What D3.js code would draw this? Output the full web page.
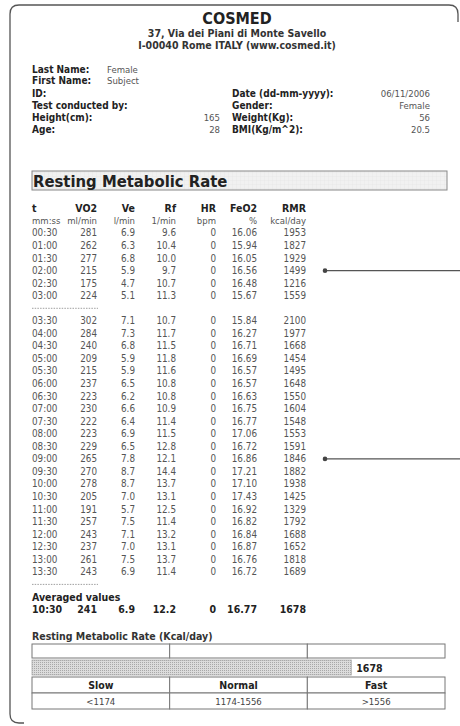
<!DOCTYPE html>
<html>
<head>
<meta charset="utf-8">
<script src="https://cdn.jsdelivr.net/npm/d3@7"></script>
<style>
  body { margin: 0; background: #fff; }
  svg { display: block; }
  text { font-family: "DejaVu Sans Condensed", "DejaVu Sans", sans-serif; }
</style>
</head>
<body>
<div id="report"></div>
<script>
// subject info
var leftLabels = ["Last Name:", "First Name:", "ID:", "Test conducted by:", "Height(cm):", "Age:"];
var leftValues = ["Female", "Subject", "", "", "165", "28"];
var rightLabels = ["", "", "Date (dd-mm-yyyy):", "Gender:", "Weight(Kg):", "BMI(Kg/m^2):"];
var rightValues = ["", "", "06/11/2006", "Female", "56", "20.5"];

// table
var headers = ["t", "VO2", "Ve", "Rf", "HR", "FeO2", "RMR"];
var units = ["mm:ss", "ml/min", "l/min", "1/min", "bpm", "%", "kcal/day"];
var times = ["00:30", "01:00", "01:30", "02:00", "02:30", "03:00",
  "03:30", "04:00", "04:30", "05:00", "05:30", "06:00", "06:30", "07:00",
  "07:30", "08:00", "08:30", "09:00", "09:30", "10:00", "10:30", "11:00",
  "11:30", "12:00", "12:30", "13:00", "13:30"];
var vo2 = [281, 262, 277, 215, 175, 224,
  302, 284, 240, 209, 215, 237, 223, 230, 222, 223, 229, 265, 270, 278, 205, 191, 257, 243, 237, 261, 243];
var ve = ["6.9", "6.3", "6.8", "5.9", "4.7", "5.1",
  "7.1", "7.3", "6.8", "5.9", "5.9", "6.5", "6.2", "6.6", "6.4", "6.9", "6.5", "7.8", "8.7", "8.7", "7.0", "5.7", "7.5", "7.1", "7.0", "7.5", "6.9"];
var rf = ["9.6", "10.4", "10.0", "9.7", "10.7", "11.3",
  "10.7", "11.7", "11.5", "11.8", "11.6", "10.8", "10.8", "10.9", "11.4", "11.5", "12.8", "12.1", "14.4", "13.7", "13.1", "12.5", "11.4", "13.2", "13.1", "13.7", "11.4"];
var hr = [0, 0, 0, 0, 0, 0, 0, 0, 0, 0, 0, 0, 0, 0, 0, 0, 0, 0, 0, 0, 0, 0, 0, 0, 0, 0, 0];
var feo2 = ["16.06", "15.94", "16.05", "16.56", "16.48", "15.67",
  "15.84", "16.27", "16.71", "16.69", "16.57", "16.57", "16.63", "16.75", "16.77", "17.06", "16.72", "16.86", "17.21", "17.10", "17.43", "16.92", "16.82", "16.84", "16.87", "16.76", "16.72"];
var rmr = [1953, 1827, 1929, 1499, 1216, 1559,
  2100, 1977, 1668, 1454, 1495, 1648, 1550, 1604, 1548, 1553, 1591, 1846, 1882, 1938, 1425, 1329, 1792, 1688, 1652, 1818, 1689];
var averaged = ["10:30", "241", "6.9", "12.2", "0", "16.77", "1678"];
var groupBreak = 6;

// RMR classification
var classes = ["Slow", "Normal", "Fast"];
var classRanges = ["<1174", "1174-1556", ">1556"];
var classLimits = [1174, 1556];
var rmrResult = 1678;

var W = 460, H = 726;
var svg = d3.select("#report").append("svg").attr("width", W).attr("height", H);

var defs = svg.append("defs");
var grid = defs.append("pattern").attr("id", "grid").attr("width", 4).attr("height", 4)
  .attr("patternUnits", "userSpaceOnUse");
grid.append("rect").attr("width", 4).attr("height", 4).attr("fill", "#f1f1f1");
grid.append("path").attr("d", "M0,0H4M0,0V4").attr("stroke", "#e2e2e2").attr("stroke-width", 0.6);
var dots = defs.append("pattern").attr("id", "dots").attr("width", 2).attr("height", 2)
  .attr("patternUnits", "userSpaceOnUse");
dots.append("rect").attr("width", 2).attr("height", 2).attr("fill", "#dcdcdc");
dots.append("rect").attr("width", 1).attr("height", 1).attr("fill", "#a8a8a8");

// page frame (right and bottom edges faded)
svg.append("path")
  .attr("d", "M458,22 V14 Q458,5 449,5 H19 Q10,5 10,14 V714 Q10,723 19,723 H24")
  .attr("fill", "none").attr("stroke", "#555").attr("stroke-width", 1.3);

// heading
svg.append("text").attr("x", 237).attr("y", 24).attr("text-anchor", "middle")
  .attr("font-size", 16).attr("font-weight", "bold").attr("fill", "#222").text("COSMED");
svg.append("text").attr("x", 237).attr("y", 37).attr("text-anchor", "middle")
  .attr("font-size", 10.5).attr("font-weight", "bold").attr("fill", "#333").text("37, Via dei Piani di Monte Savello");
svg.append("text").attr("x", 237).attr("y", 49).attr("text-anchor", "middle")
  .attr("font-size", 10.5).attr("font-weight", "bold").attr("fill", "#333").text("I-00040 Rome ITALY (www.cosmed.it)");

// subject info block
var infoY = d3.scaleLinear().domain([0, 1]).range([73, 85]);
var infoRows = [0, 1, 2, 3, 4, 5];
var infoPos = [73, 84, 97, 109, 121, 133];
infoRows.forEach(function (i) {
  var y = infoPos[i];
  svg.append("text").attr("x", 32).attr("y", y).attr("font-size", 10).attr("font-weight", "bold")
    .attr("fill", "#222").text(leftLabels[i]);
  if (i < 2) {
    svg.append("text").attr("x", 107).attr("y", y).attr("font-size", 9.5)
      .attr("fill", "#555").text(leftValues[i]);
  } else if (leftValues[i]) {
    svg.append("text").attr("x", 220).attr("y", y).attr("font-size", 9.5).attr("text-anchor", "end")
      .attr("fill", "#555").text(leftValues[i]);
  }
  if (rightLabels[i]) {
    svg.append("text").attr("x", 232).attr("y", y).attr("font-size", 10).attr("font-weight", "bold")
      .attr("fill", "#222").text(rightLabels[i]);
    svg.append("text").attr("x", 430).attr("y", y).attr("font-size", 9.5).attr("text-anchor", "end")
      .attr("fill", "#555").text(rightValues[i]);
  }
});

// section bar
svg.append("rect").attr("x", 32).attr("y", 171).attr("width", 415).attr("height", 19)
  .attr("fill", "url(#grid)").attr("stroke", "#888").attr("stroke-width", 1);
svg.append("text").attr("x", 33).attr("y", 187).attr("font-size", 16.5).attr("font-weight", "bold")
  .attr("fill", "#222").text("Resting Metabolic Rate");

// table rows
var rowY = d3.scaleLinear().domain([0, 1]).range([233, 245.55]);
var colX = [32, 97, 135, 176, 216, 257, 306];
function rowIndex(i) { return i < groupBreak ? i : i + 1; }

headers.forEach(function (h, c) {
  svg.append("text").attr("x", colX[c]).attr("y", rowY(-2)).attr("dy", "0.35em")
    .attr("text-anchor", c === 0 ? "start" : "end").attr("font-size", 10.5).attr("font-weight", "bold")
    .attr("fill", "#222").text(h);
  svg.append("text").attr("x", colX[c]).attr("y", rowY(-1)).attr("dy", "0.35em")
    .attr("text-anchor", c === 0 ? "start" : "end").attr("font-size", 9.5)
    .attr("fill", "#555").text(units[c]);
});

var rows = svg.append("g").selectAll("g").data(times).enter().append("g")
  .attr("transform", function (d, i) { return "translate(0," + rowY(rowIndex(i)) + ")"; });
var cols = [times, vo2, ve, rf, hr, feo2, rmr];
cols.forEach(function (arr, c) {
  rows.append("text").attr("x", colX[c]).attr("dy", "0.35em")
    .attr("text-anchor", c === 0 ? "start" : "end").attr("font-size", 9.8)
    .attr("fill", "#555").text(function (d, i) { return arr[i]; });
});

// dashed separators
[groupBreak, times.length + 1].forEach(function (k) {
  svg.append("line").attr("x1", 32).attr("x2", 98).attr("y1", rowY(k)).attr("y2", rowY(k))
    .attr("stroke", "#888").attr("stroke-width", 0.8).attr("stroke-dasharray", "1.5,1.2");
});

svg.append("text").attr("x", 32).attr("y", rowY(times.length + 2)).attr("dy", "0.35em")
  .attr("font-size", 10.5).attr("font-weight", "bold").attr("fill", "#222").text("Averaged values");
averaged.forEach(function (v, c) {
  svg.append("text").attr("x", colX[c]).attr("y", rowY(times.length + 3)).attr("dy", "0.35em")
    .attr("text-anchor", c === 0 ? "start" : "end").attr("font-size", 10.5).attr("font-weight", "bold")
    .attr("fill", "#222").text(v);
});

// pointer lines at right
[3, 17].forEach(function (i) {
  var y = rowY(rowIndex(i));
  svg.append("line").attr("x1", 325).attr("x2", 460).attr("y1", y).attr("y2", y)
    .attr("stroke", "#555").attr("stroke-width", 1.2);
  svg.append("circle").attr("cx", 325).attr("cy", y).attr("r", 2.3).attr("fill", "#444");
});

// RMR classification chart
svg.append("text").attr("x", 32).attr("y", 640).attr("font-size", 10.5).attr("font-weight", "bold")
  .attr("fill", "#333").text("Resting Metabolic Rate (Kcal/day)");

var span = classLimits[1] - classLimits[0];
var x = d3.scaleLinear().domain([classLimits[0] - span, classLimits[1] + span]).range([32, 445]);
var bounds = [x.domain()[0], classLimits[0], classLimits[1], x.domain()[1]];

classes.forEach(function (c, i) {
  var x0 = x(bounds[i]), x1 = x(bounds[i + 1]);
  svg.append("rect").attr("x", x0).attr("y", 644).attr("width", x1 - x0).attr("height", 14)
    .attr("fill", "#fff").attr("stroke", "#777").attr("stroke-width", 1);
  svg.append("rect").attr("x", x0).attr("y", 677).attr("width", x1 - x0).attr("height", 16)
    .attr("fill", "#fff").attr("stroke", "#777").attr("stroke-width", 1);
  svg.append("rect").attr("x", x0).attr("y", 693).attr("width", x1 - x0).attr("height", 16)
    .attr("fill", "#fff").attr("stroke", "#777").attr("stroke-width", 1);
  svg.append("text").attr("x", (x0 + x1) / 2).attr("y", 689).attr("text-anchor", "middle")
    .attr("font-size", 10.5).attr("font-weight", "bold").attr("fill", "#222").text(c);
  svg.append("text").attr("x", (x0 + x1) / 2).attr("y", 705).attr("text-anchor", "middle")
    .attr("font-size", 9.5).attr("fill", "#444").text(classRanges[i]);
});

svg.append("rect").attr("x", x(bounds[0])).attr("y", 660).attr("width", x(rmrResult) - x(bounds[0]))
  .attr("height", 15).attr("fill", "url(#dots)").attr("stroke", "#aaa").attr("stroke-width", 0.8);
svg.append("text").attr("x", x(rmrResult) + 5).attr("y", 672).attr("font-size", 10.5)
  .attr("font-weight", "bold").attr("fill", "#222").text(rmrResult);
</script>
</body>
</html>
